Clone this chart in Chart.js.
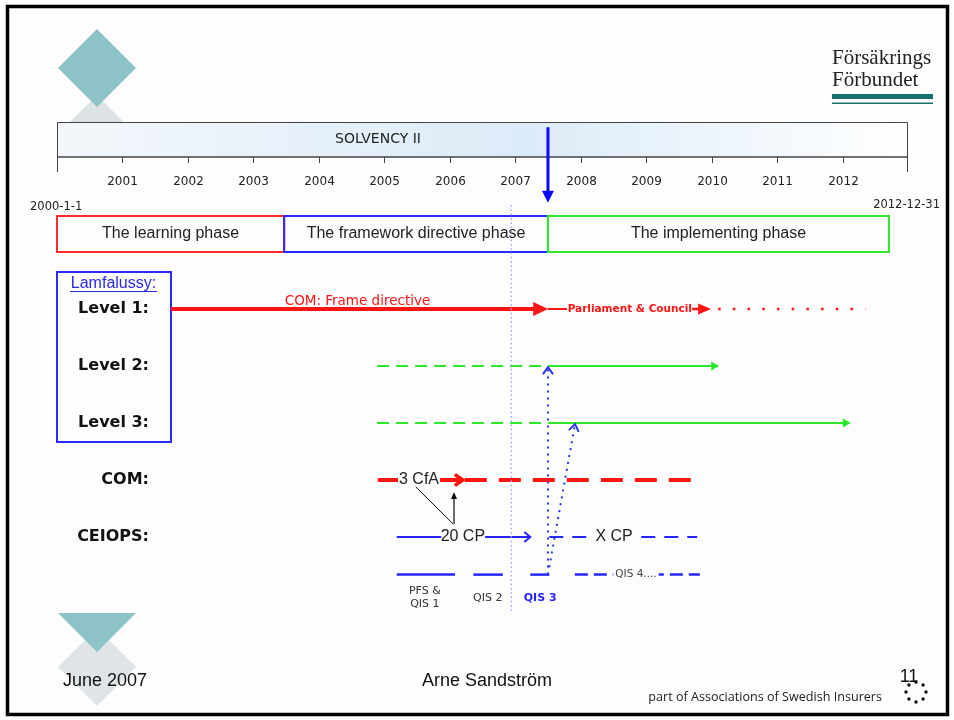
<!DOCTYPE html>
<html><head><meta charset="utf-8">
<script src="https://cdn.jsdelivr.net/npm/chart.js@4"></script>
<style>html,body{margin:0;padding:0;background:#fff;}canvas{display:block;}</style>
</head><body>
<canvas id="c" width="954" height="720"></canvas>
<script>
// ---------------- data ----------------
const timelineYears = [2001, 2002, 2003, 2004, 2005, 2006, 2007, 2008, 2009, 2010, 2011, 2012];
const timelineTitle = 'SOLVENCY II';
const timelineStartLabel = '2000-1-1';
const timelineEndLabel = '2012-12-31';
const phaseNames = ['The learning phase', 'The framework directive phase', 'The implementing phase'];
const phaseFrom = [2000, 2003.47, 2007.5];
const phaseTo = [2003.47, 2007.5, 2012.71];
const rowNames = ['Level 1:', 'Level 2:', 'Level 3:', 'COM:', 'CEIOPS:'];
const rowValues = [1, 2, 3, 4, 5];
const qisRow = 5.66;

// "now" marker and dotted reference line
const nowYear = [2007.5, 2007.5];
const nowRows = [-2.19, -1.02];
const refLineYear = [2006.94, 2006.94];
const refLineRows = [-0.82, 6.33];

// Level 1
const frameDirectiveYears = [2001.74, 2007.32];
const councilLeadYears = [2007.5, 2007.79];
const councilArrowYears = [2009.70, 2009.84];
const councilDotsYears = [2010.10, 2012.35];
// Level 2 / Level 3
const level2PlannedYears = [2004.89, 2007.5];
const level2ActiveYears = [2007.5, 2010.04];
const level3PlannedYears = [2004.89, 2007.5];
const level3ActiveYears = [2007.5, 2012.05];
// COM
const comLeadYears = [2004.90, 2005.21];
const comArrowYears = [2005.85, 2006.20];
const comDashYears = [2006.23, 2009.75];
// CEIOPS
const ceiopsLeadYears = [2005.19, 2005.87];
const ceiopsArrowYears = [2006.54, 2007.23];
const ceiopsDashYears = [2007.52, 2009.78];
// QIS
const qis1Years = [2005.19, 2006.08];
const qis2Years = [2006.36, 2006.81];
const qis3Years = [2007.23, 2007.52];
const qis4Years = [2007.91, 2009.82];
// QIS 3 feedback arrows (year, row)
const feedback1Years = [2007.5, 2007.5];
const feedback1Rows = [5.66, 2.02];
const feedback2Years = [2007.52, 2007.913];
const feedback2Rows = [5.53, 3.02];
// CfA -> CP -> CfA arrows
const cfaDiagYears = [2005.48, 2006.05];
const cfaDiagRows = [4.12, 4.77];
const cfaUpYears = [2006.065, 2006.065];
const cfaUpRows = [4.77, 4.28];

// text labels: [text, year, row]
const lineLabels = [
  ['COM: Frame directive', 2004.59, 0.86],
  ['Parliament & Council', 2008.75, 1],
  ['3 CfA', 2005.53, 4],
  ['20 CP', 2006.20, 5],
  ['X CP', 2008.51, 5],
  ['QIS 4....', 2008.845, qisRow],
  ['PFS &', 2005.62, 5.95],
  ['QIS 1', 2005.62, 6.18],
  ['QIS 2', 2006.58, 6.07],
  ['QIS 3', 2007.38, 6.07]
];

// ---------------- styles ----------------
const RED = '#ff1414', GREEN = '#2ae82a', BLUE = '#2424ff', LIGHTBLUE = '#a0a8ff', DARK = '#222';
const labelStyles = {
  'COM: Frame directive': {font: "13.5px 'DejaVu Sans'", color: RED},
  'Parliament & Council': {font: "bold 10.5px 'DejaVu Sans'", color: RED},
  '3 CfA': {font: "16px 'Liberation Sans'", color: DARK},
  '20 CP': {font: "16px 'Liberation Sans'", color: DARK},
  'X CP': {font: "16px 'Liberation Sans'", color: DARK, bg: true},
  'QIS 4....': {font: "10.5px 'DejaVu Sans'", color: '#444', bg: true},
  'PFS &': {font: "11px 'DejaVu Sans'", color: '#333'},
  'QIS 1': {font: "11px 'DejaVu Sans'", color: '#333'},
  'QIS 2': {font: "11px 'DejaVu Sans'", color: '#333'},
  'QIS 3': {font: "bold 11px 'DejaVu Sans'", color: BLUE}
};

function seg(xs, ys, color, width, dash, arrow) {
  const yy = Array.isArray(ys) ? ys : xs.map(() => ys);
  return {
    data: xs.map((x, i) => ({x: x, y: yy[i]})),
    borderColor: color, backgroundColor: color, borderWidth: width,
    borderDash: dash || [], borderCapStyle: 'butt',
    showLine: true, pointRadius: 0, pointHoverRadius: 0, fill: false, tension: 0,
    arrow: arrow || null
  };
}

const datasets = [
  seg(refLineYear, refLineRows, LIGHTBLUE, 1.5, [1.5, 2.8]),
  seg(nowYear, nowRows, '#0a0aff', 3, [], {type: 'filled', len: 12, half: 6}),
  seg(frameDirectiveYears, 1, RED, 4, [], {type: 'filled', len: 15, half: 7}),
  seg(councilLeadYears, 1, RED, 2),
  seg(councilArrowYears, 1, RED, 2.5, [], {type: 'filled', len: 13, half: 5.5}),
  seg(councilDotsYears, 1, RED, 2.5, [2.5, 12.2]),
  seg(level2PlannedYears, 2, GREEN, 2, [12, 7]),
  seg(level2ActiveYears, 2, GREEN, 2, [], {type: 'filled', len: 8, half: 4.5}),
  seg(level3PlannedYears, 3, GREEN, 2, [12, 7]),
  seg(level3ActiveYears, 3, GREEN, 2, [], {type: 'filled', len: 8, half: 4.5}),
  seg(comLeadYears, 4, RED, 4),
  seg(comArrowYears, 4, RED, 4, [], {type: 'open', len: 8, half: 5.5, width: 3.5}),
  seg(comDashYears, 4, RED, 4, [22, 12]),
  seg(ceiopsLeadYears, 5, BLUE, 2),
  seg(ceiopsArrowYears, 5, BLUE, 2, [], {type: 'open', len: 6, half: 5, width: 2}),
  seg(ceiopsDashYears, 5, BLUE, 2, [14, 9]),
  seg(qis1Years, qisRow, BLUE, 2.5),
  seg(qis2Years, qisRow, BLUE, 2.5),
  seg(qis3Years, qisRow, BLUE, 2.5),
  seg(qis4Years, qisRow, BLUE, 2.5, [13, 6]),
  seg(feedback1Years, feedback1Rows, '#2b35e8', 2, [2, 5], {type: 'open', len: 7, half: 5, width: 2}),
  seg(feedback2Years, feedback2Rows, '#2b35e8', 2, [2, 5], {type: 'open', len: 7, half: 5, width: 2}),
  seg(cfaDiagYears, cfaDiagRows, '#111', 1),
  seg(cfaUpYears, cfaUpRows, '#111', 1.2, [], {type: 'filled', len: 7, half: 3})
];

function txt(ctx, s, x, y, font, color, align, base) {
  ctx.font = font; ctx.fillStyle = color;
  ctx.textAlign = align || 'center'; ctx.textBaseline = base || 'middle';
  ctx.fillText(s, x, y);
}

const slidePlugin = {
  id: 'slide',
  beforeDraw(chart) {
    const ctx = chart.ctx, X = chart.scales.x, Y = chart.scales.y;
    ctx.save();
    ctx.fillStyle = '#fdfdfd'; ctx.fillRect(0, 0, 954, 720);

    // decorative diamonds
    ctx.fillStyle = '#dde3e5';
    ctx.beginPath(); ctx.moveTo(58, 134); ctx.lineTo(97, 95); ctx.lineTo(136, 134); ctx.closePath(); ctx.fill();
    ctx.fillStyle = '#8ec3c7';
    ctx.beginPath(); ctx.moveTo(97, 29); ctx.lineTo(136, 68); ctx.lineTo(97, 107); ctx.lineTo(58, 68); ctx.closePath(); ctx.fill();
    ctx.fillStyle = '#dfe4e6';
    ctx.beginPath(); ctx.moveTo(97, 628); ctx.lineTo(136, 667); ctx.lineTo(97, 706); ctx.lineTo(58, 667); ctx.closePath(); ctx.fill();
    ctx.fillStyle = '#8ec3c7';
    ctx.beginPath(); ctx.moveTo(58, 613); ctx.lineTo(136, 613); ctx.lineTo(97, 652); ctx.closePath(); ctx.fill();

    // logo top right
    txt(ctx, 'Försäkrings', 832, 64, "21px 'Liberation Serif'", '#222', 'left', 'alphabetic');
    txt(ctx, 'Förbundet', 832, 86, "21px 'Liberation Serif'", '#222', 'left', 'alphabetic');
    ctx.fillStyle = '#17706e'; ctx.fillRect(832, 94, 101, 5);
    ctx.fillRect(832, 102.5, 101, 1.5);

    // timeline box
    const x0 = X.getPixelForValue(2000), x1 = X.getPixelForValue(2013);
    const g = ctx.createLinearGradient(x0, 0, x1, 0);
    g.addColorStop(0, '#f3f7fb'); g.addColorStop(0.55, '#dcebf8'); g.addColorStop(1, '#ffffff');
    ctx.fillStyle = g; ctx.fillRect(x0, 122, x1 - x0, 35);
    ctx.strokeStyle = '#444'; ctx.lineWidth = 1;
    ctx.beginPath(); ctx.moveTo(x0 + 0.5, 172); ctx.lineTo(x0 + 0.5, 122.5); ctx.lineTo(x1 - 0.5, 122.5); ctx.lineTo(x1 - 0.5, 172); ctx.stroke();
    ctx.lineWidth = 1.5; ctx.beginPath(); ctx.moveTo(x0, 157); ctx.lineTo(x1, 157); ctx.stroke();
    ctx.lineWidth = 1;
    timelineYears.forEach(yr => {
      const px = Math.round(X.getPixelForValue(yr)) + 0.5;
      ctx.beginPath(); ctx.moveTo(px, 157); ctx.lineTo(px, 163); ctx.stroke();
      txt(ctx, String(yr), px, 182, "12px 'DejaVu Sans'", '#222');
    });
    txt(ctx, timelineTitle, 378, 139, "14px 'DejaVu Sans'", '#222');
    txt(ctx, timelineStartLabel, 30, 207, "11.5px 'DejaVu Sans'", '#222', 'left');
    txt(ctx, timelineEndLabel, 940, 205, "11.5px 'DejaVu Sans'", '#222', 'right');

    // phases
    const phaseColors = ['#ff2a2a', '#2a2aff', '#2ee82e'];
    phaseNames.forEach((nm, i) => {
      const a = X.getPixelForValue(phaseFrom[i]), b = X.getPixelForValue(phaseTo[i]);
      ctx.strokeStyle = phaseColors[i]; ctx.lineWidth = 2;
      ctx.strokeRect(a, 216, b - a, 36);
      txt(ctx, nm, (a + b) / 2, 234, "16px 'Liberation Sans'", '#222');
    });

    // Lamfalussy box
    ctx.strokeStyle = '#2a2aff'; ctx.lineWidth = 2;
    ctx.strokeRect(57, 272, 114, 170);
    txt(ctx, 'Lamfalussy:', 113.5, 284, "16px 'Liberation Sans'", '#2a2ae0');
    ctx.strokeStyle = '#2a2ae0'; ctx.lineWidth = 1;
    ctx.beginPath(); ctx.moveTo(70, 291.5); ctx.lineTo(157, 291.5); ctx.stroke();

    rowNames.forEach((nm, i) => {
      txt(ctx, nm, 149, Y.getPixelForValue(rowValues[i]), "bold 16px 'DejaVu Sans'", '#111', 'right');
    });

    // footer
    txt(ctx, 'June 2007', 63, 681, "18px 'Liberation Sans'", '#111', 'left');
    txt(ctx, 'Arne Sandström', 487, 681, "18px 'Liberation Sans'", '#111');
    txt(ctx, '11', 909, 677, "18px 'Liberation Sans'", '#111');
    txt(ctx, 'part of Associations of Swedish Insurers', 882, 697, "12.6px 'Open Sans'", '#222', 'right');
    ctx.fillStyle = '#111';
    for (let k = 0; k < 8; k++) {
      const an = k * Math.PI / 4;
      ctx.beginPath(); ctx.arc(916 + 10 * Math.cos(an), 692 + 10 * Math.sin(an), 1.7, 0, 2 * Math.PI); ctx.fill();
    }

    // slide frame
    ctx.strokeStyle = '#000'; ctx.lineWidth = 3.5;
    ctx.strokeRect(7.5, 6.5, 940, 708);
    ctx.restore();
  },
  afterDatasetsDraw(chart) {
    const ctx = chart.ctx, X = chart.scales.x, Y = chart.scales.y;
    ctx.save();
    chart.data.datasets.forEach((ds, i) => {
      if (!ds.arrow) return;
      const pts = chart.getDatasetMeta(i).data;
      const a = pts[pts.length - 2], b = pts[pts.length - 1];
      const dx = b.x - a.x, dy = b.y - a.y, L = Math.hypot(dx, dy);
      const ux = dx / L, uy = dy / L, nx = -uy, ny = ux;
      const ar = ds.arrow;
      ctx.setLineDash([]);
      ctx.fillStyle = ds.borderColor; ctx.strokeStyle = ds.borderColor;
      if (ar.type === 'filled') {
        const bx = b.x - ux * 3, by = b.y - uy * 3;
        const tx = bx + ux * ar.len, ty = by + uy * ar.len;
        ctx.beginPath(); ctx.moveTo(tx, ty);
        ctx.lineTo(bx + nx * ar.half, by + ny * ar.half);
        ctx.lineTo(bx - nx * ar.half, by - ny * ar.half);
        ctx.closePath(); ctx.fill();
      } else {
        ctx.lineWidth = ar.width; ctx.lineJoin = 'miter'; ctx.lineCap = 'butt';
        ctx.beginPath();
        ctx.moveTo(b.x - ux * ar.len + nx * ar.half, b.y - uy * ar.len + ny * ar.half);
        ctx.lineTo(b.x, b.y);
        ctx.lineTo(b.x - ux * ar.len - nx * ar.half, b.y - uy * ar.len - ny * ar.half);
        ctx.stroke();
      }
    });
    lineLabels.forEach(([s, yr, row]) => {
      const st = labelStyles[s];
      const px = X.getPixelForValue(yr), py = Y.getPixelForValue(row);
      ctx.font = st.font;
      if (st.bg) {
        const w = ctx.measureText(s).width;
        ctx.fillStyle = '#fdfdfd';
        ctx.fillRect(px - w / 2 - 2, py - 8, w + 4, 16);
      }
      txt(ctx, s, px, py, st.font, st.color);
    });
    ctx.restore();
  }
};

new Chart(document.getElementById('c'), {
  type: 'scatter',
  data: {datasets: datasets},
  options: {
    responsive: false, animation: false, events: [],
    layout: {padding: {left: 57, right: 46, top: 24, bottom: 69}},
    scales: {
      x: {type: 'linear', min: 2000, max: 2013, display: false},
      y: {type: 'linear', min: -4, max: 7, reverse: true, display: false}
    },
    plugins: {legend: {display: false}, tooltip: {enabled: false}}
  },
  plugins: [slidePlugin]
});
</script>
</body></html>
